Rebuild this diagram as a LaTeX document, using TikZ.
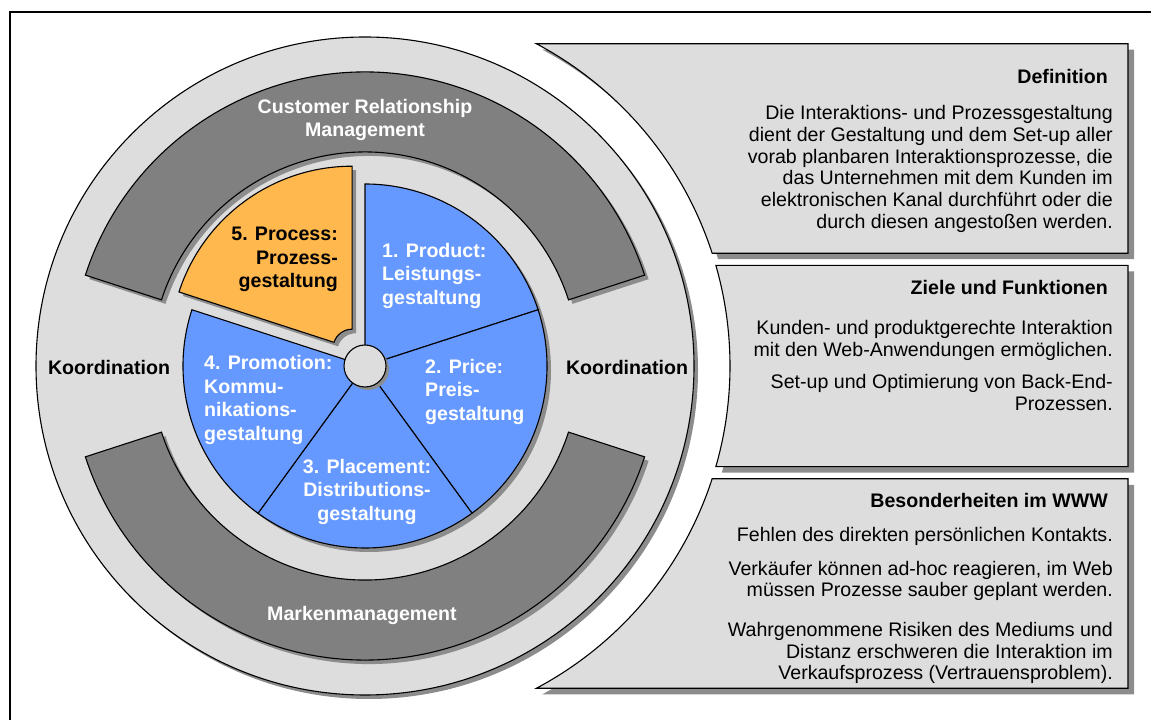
\documentclass[tikz,border=0pt]{standalone}
\usepackage{fontspec}
\setmainfont{Liberation Sans}
\usetikzlibrary{calc}
\definecolor{ringgray}{HTML}{DDDDDD}
\definecolor{bandgray}{HTML}{808080}
\definecolor{dropgray}{HTML}{8C8C8C}
\definecolor{pieblue}{HTML}{6699FF}
\definecolor{pieorange}{HTML}{FFB84D}
\tikzset{
  disc/.style={fill=ringgray, draw=black, line width=1.1pt},
  band/.style={fill=bandgray, draw=black, line width=1.1pt},
  piece/.style={fill=pieblue, draw=black, line width=1.1pt},
  piece/proc/.style={fill=pieorange, draw=black, line width=1.1pt},
  drop/.style={fill=dropgray},
  panel/.style={fill=ringgray, draw=black, line width=1.1pt},
  wlbl/.style={font=\fontsize{19.6}{23.5}\selectfont\bfseries, text=white, inner sep=0pt},
  blbl/.style={font=\fontsize{19.6}{23.5}\selectfont\bfseries, text=black, inner sep=0pt},
  ptitle/.style={font=\fontsize{19.6}{22}\selectfont\bfseries, anchor=east, inner sep=0pt},
  ptext/.style={font=\fontsize{19.6}{21.7}\selectfont, anchor=east, align=right, inner sep=0pt},
}
\newcommand{\annseg}[4]{(#1:#3) -- (#1:#4) arc[start angle=#1, end angle=#2, radius=#4] -- (#2:#3) arc[start angle=#2, end angle=#1, radius=#3] -- cycle}
\newcommand{\panelpath}[2]{(763,{365*sin(#1)}) -- (#1:365) arc[start angle=#1, end angle=#2, radius=365] -- (763,{365*sin(#2)}) -- cycle}

\begin{document}
\begin{tikzpicture}[x=1pt, y=1pt]
\useasboundingbox (0,0) rectangle (1151,720);
\draw[line width=2pt] (10,0) |- (1151,708);

\begin{scope}[shift={(365,354)}]
  \fill[drop] (4,-4) circle[radius=329];
  \draw[disc] (0,0) circle[radius=329];

  \fill[drop, shift={(4,-4)}] \annseg{162}{18}{214}{294};
  \fill[drop, shift={(4,-4)}] \annseg{198}{342}{214}{294};
  \draw[band] \annseg{162}{18}{214}{294};
  \draw[band] \annseg{198}{342}{214}{294};

  \fill[drop, shift={(4,-4)}] (0,0) -- (90:182) arc[start angle=90, end angle=-198, radius=182] -- cycle;
  \draw[piece] (0,0) -- (90:182) arc[start angle=90, end angle=18, radius=182] -- cycle;
  \draw[piece] (0,0) -- (18:182) arc[start angle=18, end angle=-54, radius=182] -- cycle;
  \draw[piece] (0,0) -- (-54:182) arc[start angle=-54, end angle=-126, radius=182] -- cycle;
  \draw[piece] (0,0) -- (-126:182) arc[start angle=-126, end angle=-198, radius=182] -- cycle;

  \begin{scope}[shift={(126:22)}]
    \fill[drop, shift={(4,-4)}] \annseg{162}{90}{19}{182};
    \draw[piece/proc] \annseg{162}{90}{19}{182};
  \end{scope}

  \fill[drop] (3,-3) circle[radius=21];
  \draw[disc] (0,0) circle[radius=21];

  \fill[drop, shift={(6,-6)}] \panelpath{62}{18};
  \fill[drop, shift={(6,-6)}] \panelpath{16}{-16};
  \fill[drop, shift={(6,-6)}] \panelpath{-18}{-62};
  \draw[panel] \panelpath{62}{18};
  \draw[panel] \panelpath{16}{-16};
  \draw[panel] \panelpath{-18}{-62};
\end{scope}

\node[wlbl, align=center] (crm) at (365,600) {Customer Relationship\\Management};
\node[wlbl] (marke) at (362,105) {Markenmanagement};
\node[blbl] (koordl) at (109,353) {Koordination};
\node[blbl] (koordr) at (627,353) {Koordination};

\node[wlbl, align=left, anchor=west] (prod) at (382,444.5) {1. Product:\\Leistungs-\\gestaltung};
\node[wlbl, align=left, anchor=west] (price) at (425,328.5) {2. Price:\\Preis-\\gestaltung};
\node[wlbl, align=center] (place) at (367,228.5) {3. Placement:\\Distributions-\\gestaltung};
\node[wlbl, align=left, anchor=west] (promo) at (204,320) {4. Promotion:\\Kommu-\\nikations-\\gestaltung};
\node[blbl, align=right, anchor=east] (proc) at (338,460.5) {5. Process:\\Prozess-\\gestaltung};

\node[ptitle] (deftitle) at (1108,643) {Definition};
\node[ptext] (deftext) at (1113,551) {Die Interaktions- und Prozessgestaltung\\dient der Gestaltung und dem Set-up aller\\vorab planbaren Interaktionsprozesse, die\\das Unternehmen mit dem Kunden im\\elektronischen Kanal durchführt oder die\\durch diesen angestoßen werden.};

\node[ptitle] (zieltitle) at (1108,433) {Ziele und Funktionen};
\node[ptext] (zielone) at (1113,379.5) {Kunden- und produktgerechte Interaktion\\mit den Web-Anwendungen ermöglichen.};
\node[ptext] (zieltwo) at (1113,327.5) {Set-up und Optimierung von Back-End-\\Prozessen.};

\node[ptitle] (webtitle) at (1108,220) {Besonderheiten im WWW};
\node[ptext] (webone) at (1113,184) {Fehlen des direkten persönlichen Kontakts.};
\node[ptext] (webtwo) at (1113,139) {Verkäufer können ad-hoc reagieren, im Web\\müssen Prozesse sauber geplant werden.};
\node[ptext] (webthree) at (1113,67) {Wahrgenommene Risiken des Mediums und\\Distanz erschweren die Interaktion im\\Verkaufsprozess (Vertrauensproblem).};
\end{tikzpicture}
\end{document}
